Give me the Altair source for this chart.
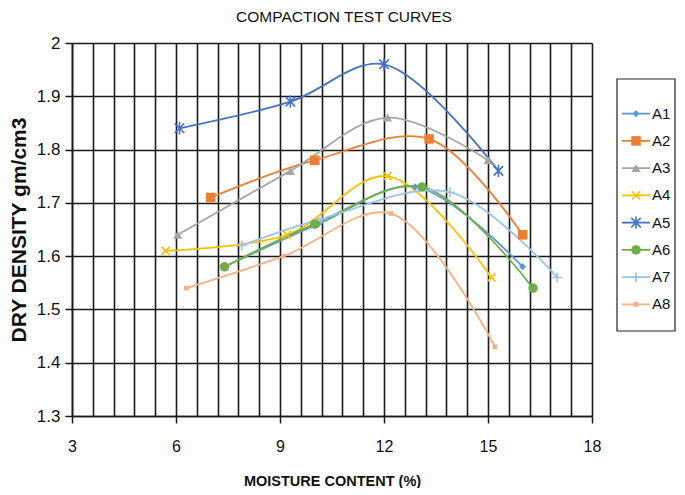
import altair as alt
import pandas as pd

series = ["A1", "A2", "A3", "A4", "A5", "A6", "A7", "A8"]
colors = ["#5B9BD5", "#ED7D31", "#A5A5A5", "#FFC000", "#4472C4", "#70AD47", "#9DC3E6", "#F4B183"]

moisture = {
    "A1": [7.4, 10.1, 12.9, 16.0],
    "A2": [7.0, 10.0, 13.3, 16.0],
    "A3": [6.05, 9.3, 12.1, 15.0],
    "A4": [5.7, 9.2, 12.1, 15.1],
    "A5": [6.1, 9.3, 12.0, 15.3],
    "A6": [7.4, 10.0, 13.1, 16.3],
    "A7": [7.9, 10.2, 13.9, 17.0],
    "A8": [6.3, 9.1, 12.2, 15.2],
}
density = {
    "A1": [1.58, 1.66, 1.73, 1.58],
    "A2": [1.71, 1.78, 1.82, 1.64],
    "A3": [1.64, 1.76, 1.86, 1.78],
    "A4": [1.61, 1.64, 1.75, 1.56],
    "A5": [1.84, 1.89, 1.96, 1.76],
    "A6": [1.58, 1.66, 1.73, 1.54],
    "A7": [1.62, 1.67, 1.72, 1.56],
    "A8": [1.54, 1.60, 1.68, 1.43],
}

x_grid = [round(3 + 0.6 * i, 1) for i in range(26)]
y_ticks = [1.3, 1.4, 1.5, 1.6, 1.7, 1.8, 1.9, 2.0]

# marker shapes
shapes = [
    "diamond",
    "square",
    "triangle-up",
    "M-1,-1L1,1M-1,1L1,-1",
    "M-1,-1L1,1M-1,1L1,-1M0,-1.3L0,1.3",
    "circle",
    "M-1,0L1,0M0,-1L0,1",
    "square",
]
sizes = [50, 90, 85, 70, 90, 90, 100, 22]
filled_series = ["A1", "A2", "A3", "A6", "A8"]

rows = []
for s in series:
    for mx, dy in zip(moisture[s], density[s]):
        rows.append({"series": s, "moisture": mx, "density": dy})
df = pd.DataFrame(rows)

FONT = "Liberation Sans, Arial, sans-serif"
INK = "#111111"
GRID = "#1a1a1a"

x_scale = alt.Scale(domain=[3, 18], nice=False, zero=False)
y_scale = alt.Scale(domain=[1.3, 2.0], nice=False, zero=False)
color_scale = alt.Scale(domain=series, range=colors)
shape_scale = alt.Scale(domain=series, range=shapes)
size_scale = alt.Scale(type="ordinal", domain=series, range=sizes)

x_axis = alt.Axis(
    values=x_grid,
    grid=True,
    gridColor=GRID,
    gridWidth=1.6,
    gridOpacity=1,
    labelExpr="datum.value % 3 == 0 ? format(datum.value, 'd') : ''",
    tickOpacity={"condition": {"test": "datum.value % 3 == 0", "value": 1}, "value": 0},
    tickSize=7,
    tickColor=GRID,
    tickWidth=1.5,
    domainColor=GRID,
    domainWidth=1.6,
    labelFont=FONT,
    labelFontSize=16,
    labelColor=INK,
    labelPadding=15,
    labelFlush=False,
    title="MOISTURE CONTENT (%)",
    titleFont=FONT,
    titleFontSize=14.5,
    titleFontWeight="bold",
    titleColor=INK,
    titlePadding=20,
)
y_axis = alt.Axis(
    values=y_ticks,
    grid=True,
    gridColor=GRID,
    gridWidth=1.6,
    gridOpacity=1,
    tickSize=7,
    tickColor=GRID,
    tickWidth=1.5,
    domainColor=GRID,
    domainWidth=1.6,
    labelFont=FONT,
    labelFontSize=17,
    labelColor=INK,
    labelPadding=5,
    labelExpr="datum.value == 2 ? '2' : format(datum.value, '.1f')",
    labelFlush=False,
    title="DRY DENSITY gm/cm3",
    titleFont=FONT,
    titleFontSize=21,
    titleFontWeight="bold",
    titleColor=INK,
    titlePadding=7,
)

base = alt.Chart(df)
enc_x = alt.X("moisture:Q", scale=x_scale, axis=x_axis)
enc_y = alt.Y("density:Q", scale=y_scale, axis=y_axis)
enc_c = alt.Color("series:N", scale=color_scale, legend=None)
enc_shape = alt.Shape("series:N", scale=shape_scale, legend=None)
enc_size = alt.Size("series:N", scale=size_scale, legend=None)

lines = base.mark_line(interpolate="catmull-rom", strokeWidth=1.8).encode(
    x=enc_x, y=enc_y, color=enc_c, detail="series:N"
)
pts_filled = base.transform_filter(
    alt.FieldOneOfPredicate(field="series", oneOf=filled_series)
).mark_point(filled=True, opacity=1).encode(
    x=enc_x, y=enc_y, color=enc_c, shape=enc_shape, size=enc_size
)
pts_stroked = base.transform_filter(
    {"not": alt.FieldOneOfPredicate(field="series", oneOf=filled_series)}
).mark_point(filled=False, opacity=1, strokeWidth=1.6).encode(
    x=enc_x, y=enc_y, color=enc_c, shape=enc_shape, size=enc_size
)
main = alt.layer(lines, pts_filled, pts_stroked)

# custom legend (line through marker)
leg_df = pd.DataFrame({"series": series})
leg_y = alt.Y("series:N", scale=alt.Scale(domain=series, range=[57, 275], padding=0), axis=None)
box = alt.Chart(pd.DataFrame({"k": [0]})).mark_rect(
    fill="white", stroke="#222", strokeWidth=1.2
).encode(x=alt.value(545), x2=alt.value(603), y=alt.value(36), y2=alt.value(288))
leg_lines = alt.Chart(leg_df).mark_rule(strokeWidth=1.8).encode(
    x=alt.value(550), x2=alt.value(578), y=leg_y, color=enc_c
)
leg_f = alt.Chart(leg_df).transform_filter(
    alt.FieldOneOfPredicate(field="series", oneOf=filled_series)
).mark_point(filled=True, opacity=1).encode(
    x=alt.value(564), y=leg_y, color=enc_c, shape=enc_shape, size=enc_size
)
leg_s = alt.Chart(leg_df).transform_filter(
    {"not": alt.FieldOneOfPredicate(field="series", oneOf=filled_series)}
).mark_point(filled=False, opacity=1, strokeWidth=1.6).encode(
    x=alt.value(564), y=leg_y, color=enc_c, shape=enc_shape, size=enc_size
)
leg_text = alt.Chart(leg_df).mark_text(
    align="left", baseline="middle", font=FONT, fontSize=15, color=INK
).encode(x=alt.value(580), y=leg_y, text="series:N")
legend = alt.layer(box, leg_lines, leg_f, leg_s, leg_text)

chart = alt.layer(main, legend).resolve_scale(y="independent").properties(
    width=520,
    height=373,
    padding={"left": 0, "top": 1, "right": 0, "bottom": 0},
    title=alt.TitleParams(
        "COMPACTION TEST CURVES",
        font=FONT,
        fontSize=15.5,
        fontWeight="normal",
        color=INK,
        anchor="middle",
        offset=9,
        dx=12,
    ),
).configure_view(stroke=None)

chart.save("out.html", embed_options={"renderer": "svg", "actions": False})
